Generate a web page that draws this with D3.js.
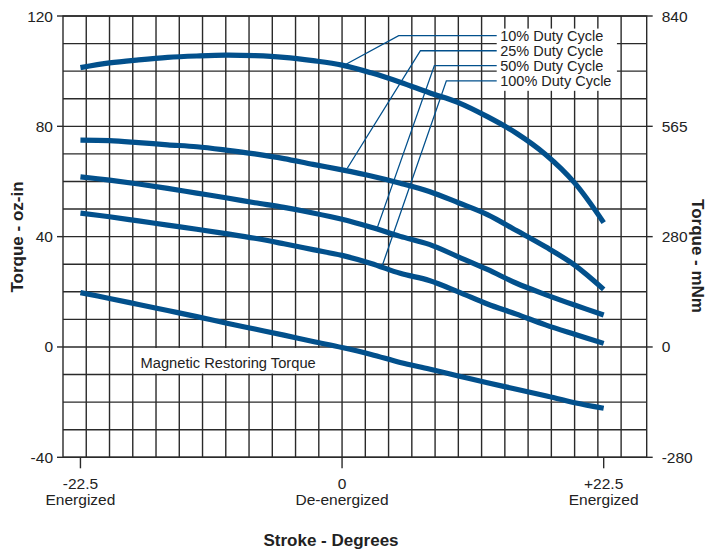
<!DOCTYPE html>
<html><head><meta charset="utf-8">
<script src="https://cdn.jsdelivr.net/npm/d3@7"></script>
<style>
html,body{margin:0;padding:0;background:#fff;}
svg{display:block;font-family:"Liberation Sans",Arial,Helvetica,sans-serif;}
</style></head>
<body><svg id="c" width="708" height="552"></svg>
<script>
const strokeDeg = [-22.5,-20,-17.5,-15,-12.5,-10,-7.5,-5,-2.5,0,2.5,5,7.5,10,12.5,15,17.5,20,22.5];
const duty10  = [101.3,103.0,104.1,105.0,105.5,105.8,105.6,105.0,103.8,102.2,99.4,96.0,92.2,88.6,83.5,77.5,69.8,59.5,45.1];
const duty25  = [75.0,74.8,74.1,73.3,72.6,71.4,70.0,68.3,66.2,64.2,62.0,59.4,56.4,52.3,48.0,42.2,36.3,29.7,20.9];
const duty50  = [61.7,60.5,59.1,57.5,55.8,54.1,52.3,50.6,48.6,46.3,43.4,40.1,37.2,32.7,28.1,23.1,19.0,15.2,11.6];
const duty100 = [48.5,47.2,45.7,44.2,42.7,41.1,39.4,37.4,35.3,33.2,30.3,26.7,24.1,20.0,15.6,11.9,8.0,4.6,1.3];
const magnetic = [19.7,17.6,15.4,13.2,11.0,8.7,6.5,4.3,2.0,-0.2,-2.7,-5.6,-8.0,-10.5,-13.0,-15.3,-17.7,-20.2,-22.2];

const seriesNames = ["10% Duty Cycle","25% Duty Cycle","50% Duty Cycle","100% Duty Cycle"];
// leader lines: anchor on curve [deg, oz-in], elbow [deg, oz-in]
const leaderAnchor = [[0.3,102.4],[0.45,64.8],[3.0,42.9],[3.45,29.4]];
const leaderElbow  = [[4.87,112.9],[6.74,107.4],[7.94,102.0],[8.97,96.5]];
const leaderEndDeg = 13.3;

const xTickVals = [-22.5, 0, 22.5];
const xTickLine1 = ["-22.5","0","+22.5"];
const xTickLine2 = ["Energized","De-energized","Energized"];
const yTickVals = [120, 80, 40, 0, -40];
const yRightLabels = ["840","565","280","0","-280"];

const svg = d3.select("#c");
const x = d3.scaleLinear().domain([-24, 26.2]).range([63, 646.7]);
const y = d3.scaleLinear().domain([-40, 120]).range([457.3, 16]);
const gridColor = "#2a2a2a";
const blue = "#02508c";

// grid
const g = svg.append("g");
g.selectAll("line.v").data(d3.range(-22, 25, 2)).join("line")
  .attr("x1", d => x(d)).attr("x2", d => x(d))
  .attr("y1", y(120)).attr("y2", y(-40))
  .attr("stroke", gridColor).attr("stroke-width", 1.4);
g.selectAll("line.h").data(d3.range(-40, 121, 10)).join("line")
  .attr("x1", x(-24)).attr("x2", x(26.2))
  .attr("y1", d => y(d)).attr("y2", d => y(d))
  .attr("stroke", gridColor).attr("stroke-width", 1.4);
// frame
g.append("rect").attr("x", x(-24)).attr("y", y(120))
  .attr("width", x(26.2) - x(-24)).attr("height", y(-40) - y(120))
  .attr("fill", "none").attr("stroke", gridColor).attr("stroke-width", 1.4);

// ticks left/right/bottom
g.selectAll("line.lt").data(yTickVals).join("line")
  .attr("x1", x(-24) - 6).attr("x2", x(-24)).attr("y1", d => y(d)).attr("y2", d => y(d))
  .attr("stroke", gridColor).attr("stroke-width", 1.4);
g.selectAll("line.rt").data(yTickVals).join("line")
  .attr("x1", x(26.2)).attr("x2", x(26.2) + 6).attr("y1", d => y(d)).attr("y2", d => y(d))
  .attr("stroke", gridColor).attr("stroke-width", 1.4);
g.selectAll("line.bt").data(xTickVals).join("line")
  .attr("x1", d => x(d)).attr("x2", d => x(d)).attr("y1", y(-40)).attr("y2", y(-40) + 11)
  .attr("stroke", gridColor).attr("stroke-width", 1.4);

// tick labels
const tickFont = 15.5;
g.selectAll("text.ly").data(yTickVals).join("text")
  .attr("x", x(-24) - 10).attr("y", d => y(d) + 5.5)
  .attr("text-anchor", "end").attr("font-size", tickFont).attr("fill", "#222")
  .text(d => d);
g.selectAll("text.ry").data(yTickVals).join("text")
  .attr("x", x(26.2) + 15).attr("y", d => y(d) + 5.5)
  .attr("text-anchor", "start").attr("font-size", tickFont).attr("fill", "#222")
  .text((d, i) => yRightLabels[i]);
g.selectAll("text.bx1").data(xTickVals).join("text")
  .attr("x", d => x(d)).attr("y", 488.5)
  .attr("text-anchor", "middle").attr("font-size", tickFont).attr("fill", "#222")
  .text((d, i) => xTickLine1[i]);
g.selectAll("text.bx2").data(xTickVals).join("text")
  .attr("x", d => x(d)).attr("y", 504.5)
  .attr("text-anchor", "middle").attr("font-size", tickFont).attr("fill", "#222")
  .text((d, i) => xTickLine2[i]);

// axis titles
svg.append("text").attr("transform", "translate(23,237) rotate(-90)")
  .attr("text-anchor", "middle").attr("font-size", 17).attr("font-weight", "bold").attr("fill", "#222")
  .text("Torque - oz-in");
svg.append("text").attr("transform", "translate(692,256) rotate(90)")
  .attr("text-anchor", "middle").attr("font-size", 17).attr("font-weight", "bold").attr("fill", "#222")
  .text("Torque - mNm");
svg.append("text").attr("x", 331).attr("y", 546)
  .attr("text-anchor", "middle").attr("font-size", 17).attr("font-weight", "bold").attr("fill", "#222")
  .text("Stroke - Degrees");

// magnetic label box
g.append("rect").attr("x", x(-18) + 1).attr("y", y(0) + 1)
  .attr("width", x(0) - x(-18) - 2).attr("height", y(-10) - y(0) - 2).attr("fill", "#fff");
g.append("text").attr("x", 140.5).attr("y", 367.5).attr("font-size", 14.7).attr("fill", "#222")
  .text("Magnetic Restoring Torque");

// curves
const line = d3.line().x(d => x(d[0])).y(d => y(d[1])).curve(d3.curveCatmullRom.alpha(0.5));
const allSeries = [duty10, duty25, duty50, duty100, magnetic];
svg.append("g").selectAll("path").data(allSeries).join("path")
  .attr("d", s => line(strokeDeg.map((d, i) => [d, s[i]])))
  .attr("fill", "none").attr("stroke", blue).attr("stroke-width", 5.2);

// legend box
const lg = svg.append("g");
const lgBg = lg.append("rect").attr("fill", "#fff");
const lgText = lg.append("g");
lgText.selectAll("text").data(seriesNames).join("text")
  .attr("x", x(leaderEndDeg) + 3.5).attr("y", (d, i) => y(leaderElbow[i][1]) + 5)
  .attr("font-size", 14.5).attr("fill", "#222").text(d => d);
const bb = lgText.node().getBBox();
lgBg.attr("x", bb.x - 3.5).attr("y", bb.y + 1).attr("width", bb.width + 9).attr("height", bb.height + 1);

// leader lines
lg.selectAll("polyline").data(seriesNames).join("polyline")
  .attr("points", (d, i) => [
      [x(leaderAnchor[i][0]), y(leaderAnchor[i][1])],
      [x(leaderElbow[i][0]), y(leaderElbow[i][1])],
      [x(leaderEndDeg), y(leaderElbow[i][1])]
    ].map(p => p.join(",")).join(" "))
  .attr("fill", "none").attr("stroke", blue).attr("stroke-width", 1.3);
</script></body></html>
